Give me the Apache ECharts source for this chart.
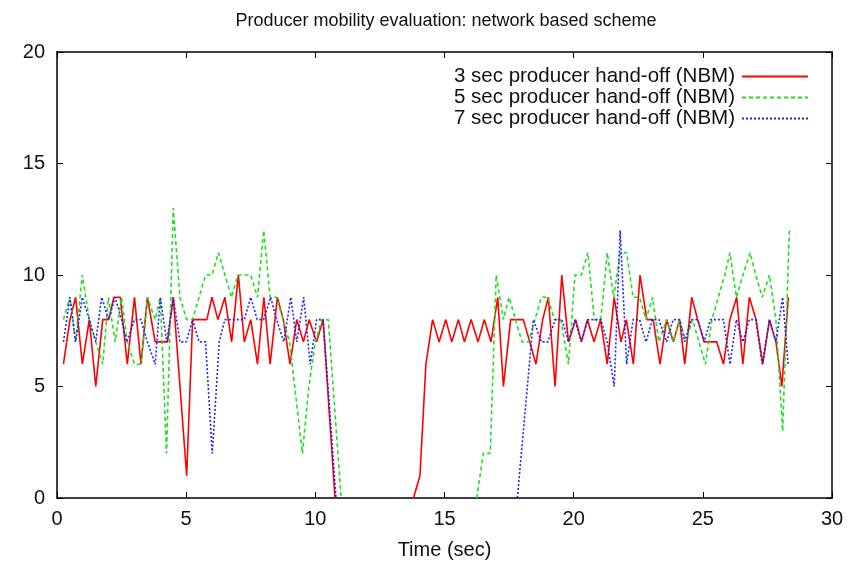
<!DOCTYPE html>
<html>
<head>
<meta charset="utf-8">
<script src="https://cdn.jsdelivr.net/npm/echarts@6/dist/echarts.min.js"></script>
<style>
  html, body { margin: 0; padding: 0; background: #fff; }
  #chart { width: 859px; height: 571px; }
</style>
</head>
<body>
<div id="chart"></div>
<script>
// legend names
var seriesNames = ['3 sec producer hand-off (NBM)', '5 sec producer hand-off (NBM)', '7 sec producer hand-off (NBM)'];

// 3 sec hand-off (null = gap in the line)
var redT = [0.25,0.5,0.72,0.98,1.25,1.5,1.77,2.0,2.2,2.45,2.72,3.0,3.25,3.5,3.8,4.05,4.28,4.5,5.02,5.25,5.54,5.8,6.0,6.23,6.5,6.76,7.02,7.25,7.5,7.76,8.01,8.25,8.53,8.76,9.02,9.28,9.54,9.76,10.05,10.3,10.76,
  12,
  13.8,14.05,14.28,14.54,14.79,15.05,15.28,15.54,15.77,16.03,16.3,16.54,16.8,17.06,17.28,17.56,17.8,18.05,18.3,18.54,18.8,19.02,19.28,19.54,19.8,20.08,20.3,20.53,20.79,21.04,21.3,21.57,21.83,22.04,22.31,22.57,22.83,23.08,23.34,23.6,23.86,24.1,24.3,24.57,24.8,25.05,25.3,25.54,25.8,26.05,26.31,26.55,26.8,27.06,27.32,27.58,27.83,28.06,28.31];
var redV = [6,8,9,6,8,5,8,8,9,9,6,9,6,9,7,7,7,9,1,8,8,8,9,8,9,7,10,7,8,6,9,6,9,8,6,8,7,8,7,8,0,
  null,
  0,1,6,8,7,8,7,8,7,8,7,8,7,9,5,8,8,8,7,6,8,9,5,10,7,8,7,8,7,8,6,9,7,8,6,10,8,8,6,8,7,8,6,9,8,7,7,7,6,8,9,6,9,8,6,8,7,5,9];

// 5 sec hand-off
var greenT = [0.25,0.5,0.72,0.98,1.25,1.5,1.77,1.99,2.25,2.5,2.72,3.0,3.26,3.5,3.8,4.0,4.24,4.5,4.76,5.02,5.25,5.5,5.75,6.0,6.25,6.5,6.76,7.0,7.25,7.5,7.76,8.0,8.25,8.5,8.75,9.0,9.5,9.75,10.0,10.25,10.5,11.0,
  13,
  16.25,16.5,16.77,17.0,17.28,17.5,17.75,18.0,18.25,18.5,18.75,19.0,19.25,19.5,19.8,20.05,20.3,20.55,20.8,21.05,21.3,21.55,21.8,22.05,22.3,22.55,22.8,23.05,23.3,23.6,23.85,24.1,24.35,24.6,24.85,25.1,25.35,25.6,25.85,26.05,26.3,26.55,26.83,27.05,27.3,27.58,27.83,28.09,28.35];
var greenV = [8,9,7,10,8,7,6,9,7,9,7,6,6,9,8,9,2,13,9,8,8,9,10,10,11,10,9,10,10,10,9,12,9,9,8,7,2,5,7,8,8,0,
  null,
  0,2,2,10,8,9,8,7,7,8,9,9,8,8,6,10,10,11,8,8,11,9,11,11,9,9,8,9,7,8,7,8,7,8,7,6,8,9,10,11,9,10,11,10,9,10,8,3,12];

// 7 sec hand-off
var blueT = [0.25,0.5,0.72,0.98,1.25,1.5,1.73,2.0,2.25,2.5,2.7,3.0,3.25,3.5,3.8,4.0,4.25,4.5,4.76,5.0,5.25,5.5,5.75,6.01,6.28,6.5,6.75,7.0,7.25,7.5,7.75,8.0,8.27,8.5,8.78,9.05,9.28,9.55,9.8,10.05,10.3,10.8,
  14,
  17.82,18.44,18.75,19.0,19.28,19.55,19.8,20.05,20.3,20.55,20.8,21.05,21.3,21.57,21.8,22.05,22.3,22.55,22.8,23.05,23.3,23.6,23.85,24.1,24.3,24.55,24.8,25.05,25.3,25.55,25.8,26.05,26.3,26.55,26.8,27.05,27.3,27.58,27.83,28.09,28.3];
var blueV = [7,9,7,9,8,7,9,8,9,8,7,8,8,7,6,9,7,9,7,7,8,7,7,2,7,8,8,8,8,9,8,8,9,8,7,9,7,9,6,8,8,0,
  null,
  0,8,7,7,8,8,7,8,7,8,8,8,7,5,12,6,8,8,7,8,8,7,8,8,7,8,8,7,8,8,8,6,8,7,8,8,6,8,7,9,6];

var xTicksMax = 30, yTicksMax = 20;

function pairs(t, v) {
    var out = [];
    for (var i = 0; i < t.length; i++) {
        out.push([t[i], v[i] === null ? '-' : v[i]]);
    }
    return out;
}

var chart = echarts.init(document.getElementById('chart'));
var font = '"Liberation Sans", Arial, sans-serif';

var axisCommon = {
    min: 0,
    interval: 5,
    axisLine: { show: true, onZero: false, lineStyle: { color: '#000', width: 1.5 } },
    axisTick: { show: true, inside: true, length: 6, lineStyle: { color: '#000', width: 1 } },
    splitLine: { show: false }
};

var option = {
    animation: false,
    backgroundColor: '#fff',
    textStyle: { fontFamily: font },
    title: {
        text: 'Producer mobility evaluation: network based scheme',
        left: 441, top: 7, textAlign: 'center',
        textStyle: { fontFamily: font, fontWeight: 'normal', fontSize: 18, color: '#111' }
    },
    legend: {
        orient: 'vertical',
        right: 45, top: 61,
        align: 'right',
        itemWidth: 66, itemHeight: 14, itemGap: 0,
        itemStyle: { opacity: 0 },
        textStyle: { fontFamily: font, fontSize: 20.5, color: '#111', padding: [0, 2, 0, 0] },
        data: seriesNames
    },
    grid: { left: 57, right: 27, top: 52, bottom: 73 },
    xAxis: [
        Object.assign({}, axisCommon, {
            type: 'value', max: xTicksMax, position: 'bottom',
            name: 'Time (sec)', nameLocation: 'middle', nameGap: 42,
            nameTextStyle: { fontFamily: font, fontSize: 20, color: '#111' },
            axisLabel: { fontFamily: font, fontSize: 20, color: '#111', margin: 11 }
        }),
        Object.assign({}, axisCommon, {
            type: 'value', max: xTicksMax, position: 'top',
            axisLabel: { show: false }
        })
    ],
    yAxis: [
        Object.assign({}, axisCommon, {
            type: 'value', max: yTicksMax, position: 'left',
            axisLabel: { fontFamily: font, fontSize: 20, color: '#111', margin: 12 }
        }),
        Object.assign({}, axisCommon, {
            type: 'value', max: yTicksMax, position: 'right',
            axisLabel: { show: false }
        })
    ],
    series: [
        {
            name: seriesNames[0], type: 'line', showSymbol: false, symbol: 'none',
            connectNulls: false, clip: true,
            lineStyle: { color: '#ff0000', width: 1.6, type: 'solid' },
            itemStyle: { color: '#ff0000' },
            data: pairs(redT, redV)
        },
        {
            name: seriesNames[1], type: 'line', showSymbol: false, symbol: 'none',
            connectNulls: false, clip: true,
            lineStyle: { color: '#22dd22', width: 1.6, type: [4, 3] },
            itemStyle: { color: '#22dd22' },
            data: pairs(greenT, greenV)
        },
        {
            name: seriesNames[2], type: 'line', showSymbol: false, symbol: 'none',
            connectNulls: false, clip: true,
            lineStyle: { color: '#2222ee', width: 1.6, type: [2, 2] },
            itemStyle: { color: '#2222ee' },
            data: pairs(blueT, blueV)
        }
    ]
};

chart.setOption(option);
</script>
</body>
</html>
